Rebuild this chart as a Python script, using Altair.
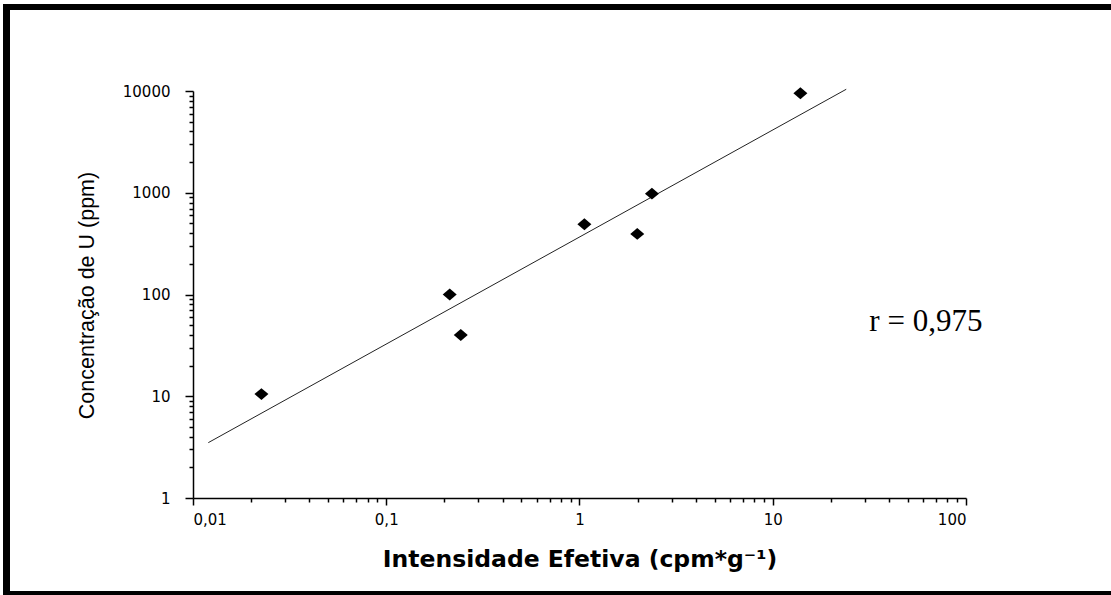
import altair as alt
import pandas as pd

# data
intensity = [0.0226, 0.213, 0.243, 1.06, 1.99, 2.37, 13.9]
concentration = [10.5, 100, 40, 490, 394, 980, 9500]

fit_x = [0.012, 24.0]
fit_y = [3.5, 10400]

x_ticks = [0.01, 0.02, 0.03, 0.04, 0.05, 0.06, 0.07, 0.08, 0.09,
           0.1, 0.2, 0.3, 0.4, 0.5, 0.6, 0.7, 0.8, 0.9,
           1, 2, 3, 4, 5, 6, 7, 8, 9,
           10, 20, 30, 40, 50, 60, 70, 80, 90, 100]
y_ticks = [1, 2, 3, 4, 5, 6, 7, 8, 9,
           10, 20, 30, 40, 50, 60, 70, 80, 90,
           100, 200, 300, 400, 500, 600, 700, 800, 900,
           1000, 2000, 3000, 4000, 5000, 6000, 7000, 8000, 9000, 10000]

ann_text = ["r = 0,975"]
ann_x = [62]
ann_y = [44]

pts = pd.DataFrame({"x": intensity, "y": concentration})
fit = pd.DataFrame({"x": fit_x, "y": fit_y})
ann = pd.DataFrame({"x": ann_x, "y": ann_y, "t": ann_text})

xscale = alt.Scale(type="log", domain=[0.01, 100])
yscale = alt.Scale(type="log", domain=[1, 10000])

is_minor = "abs(log(datum.value)/LN10 - round(log(datum.value)/LN10)) > 0.01"
lab_expr = "(" + is_minor + ") ? '' : replace(toString(datum.value), '.', ',')"


def make_axis(orient, values, major_len, minor_len, **kw):
    return alt.Axis(
        orient=orient, values=values, tickSize=major_len, tickWidth=1.5, domainWidth=1.5,
        tickDash={"condition": {"test": is_minor, "value": [minor_len, 40]}, "value": []},
        domainColor="black", tickColor="black", labelColor="black", grid=False,
        labelExpr=lab_expr, labelFont="DejaVu Sans", labelFontSize=15,
        titleColor="black", **kw,
    )


x_axis = make_axis(
    "bottom", x_ticks, 7, 4, labelPadding=7,
    title="Intensidade Efetiva (cpm*g⁻¹)", titleFont="DejaVu Sans", titleFontSize=23.5,
    titleFontWeight="bold", titleBaseline="alphabetic", titleY=68,
)
y_axis = make_axis(
    "left", y_ticks, 8, 4, labelPadding=15,
    title="Concentração de U (ppm)", titleFont="Liberation Sans", titleFontSize=21.5,
    titleFontWeight="normal", titleBaseline="alphabetic",
    titleX=-100, titleY=204, titleAngle=270, titleAlign="center",
)

X = alt.X("x:Q", scale=xscale, axis=x_axis)
Y = alt.Y("y:Q", scale=yscale, axis=y_axis)

line = alt.Chart(fit).mark_line(color="#222222", strokeWidth=1).encode(x=X, y=Y)

points = alt.Chart(pts).mark_point(
    shape="M-1,0L0,-0.85L1,0L0,0.85Z", size=196, filled=True, color="black", opacity=1
).encode(x=X, y=Y)

label = alt.Chart(ann).mark_text(
    font="Liberation Serif", fontSize=31, color="black", align="center", baseline="alphabetic"
).encode(x=X, y=Y, text="t:N")

one = alt.Data(values=[{"a": 1}])
frame_top = alt.Chart(one).mark_rule(color="black", strokeWidth=6).encode(
    x=alt.value(-190), x2=alt.value(930), y=alt.value(-84)
)
frame_left = alt.Chart(one).mark_rule(color="black", strokeWidth=7).encode(
    x=alt.value(-186.5), y=alt.value(-87), y2=alt.value(510)
)
frame_bottom = alt.Chart(one).mark_rule(color="black", strokeWidth=6).encode(
    x=alt.value(-190), x2=alt.value(930), y=alt.value(503)
)

chart = alt.layer(line, points, label, frame_top, frame_left, frame_bottom).properties(
    width=773, height=407,
    autosize=alt.AutoSizeParams(type="none"),
    padding={"left": 193, "top": 91, "right": 145, "bottom": 97},
    background="white",
).configure_view(stroke=None)

chart.save("out.html", embed_options={"renderer": "svg", "actions": False})
